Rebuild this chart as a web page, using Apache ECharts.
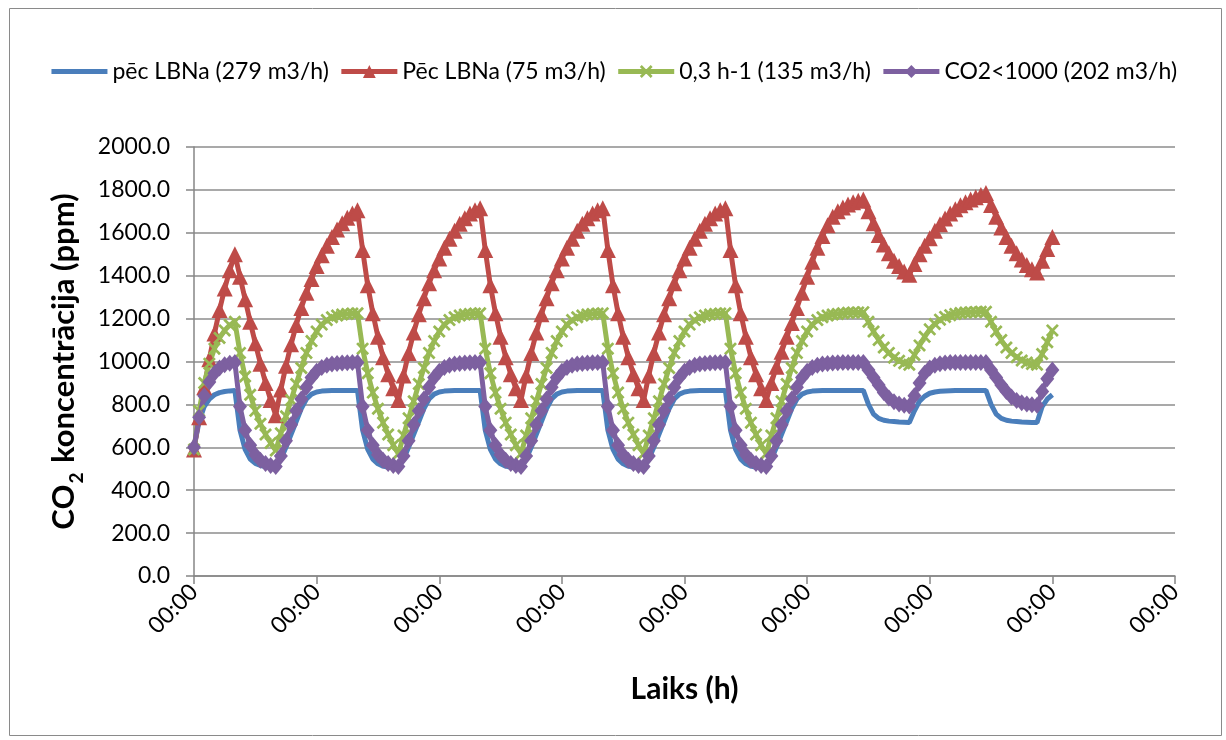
<!DOCTYPE html>
<html>
<head>
<meta charset="utf-8">
<title>CO2 koncentrācija</title>
<script src="https://cdn.jsdelivr.net/npm/echarts@6/dist/echarts.min.js"></script>
<style>
  html, body { margin: 0; padding: 0; background: #fff; }
  #chart { width: 1226px; height: 740px; }
</style>
</head>
<body>
<div id="chart"></div>
<script>
// hourly values, hour 0 .. 168 (7 days)
var blue = [
  600, 720, 790, 825, 845, 855, 860, 863, 865,
  680, 590, 545, 525, 515, 510, 507, 505,
  545, 600, 660, 720, 780, 825, 848, 858, 862, 864, 865, 865, 865, 865, 865, 865,
  680, 590, 545, 523, 512, 507, 505, 503,
  545, 600, 660, 720, 780, 825, 848, 858, 862, 864, 865, 865, 865, 865, 865, 865,
  680, 590, 545, 523, 512, 507, 505, 503,
  545, 600, 660, 720, 780, 825, 848, 858, 862, 864, 865, 865, 865, 865, 865, 865,
  680, 590, 545, 523, 512, 507, 505, 503,
  545, 600, 660, 720, 780, 825, 848, 858, 862, 864, 865, 865, 865, 865, 865, 865,
  680, 590, 545, 523, 512, 507, 505, 503,
  545, 600, 660, 720, 780, 825, 848, 858, 862, 864, 865, 865, 865, 865, 865, 865, 865, 865, 865,
  800, 755, 735, 726, 722, 720, 718, 717, 716,
  770, 815, 838, 852, 858, 861, 863, 864, 865, 865, 865, 865, 865, 865, 865,
  800, 755, 735, 726, 722, 720, 718, 717, 716, 716,
  790, 825, 845
];
var red = [
  590, 740, 880, 1010, 1130, 1240, 1340, 1425, 1500,
  1395, 1290, 1185, 1085, 990, 900, 820, 750,
  870, 980, 1080, 1170, 1250, 1320, 1385, 1445, 1495, 1540, 1580, 1615, 1645, 1670, 1690, 1705,
  1520, 1355, 1225, 1115, 1020, 940, 875, 820,
  935, 1040, 1135, 1220, 1295, 1365, 1425, 1480, 1530, 1572, 1610, 1642, 1668, 1690, 1705, 1715,
  1520, 1355, 1225, 1115, 1020, 940, 875, 820,
  935, 1040, 1135, 1220, 1295, 1365, 1425, 1480, 1530, 1572, 1610, 1642, 1668, 1690, 1705, 1715,
  1520, 1355, 1225, 1115, 1020, 940, 875, 820,
  935, 1040, 1135, 1220, 1295, 1365, 1425, 1480, 1530, 1572, 1610, 1642, 1668, 1690, 1705, 1715,
  1520, 1355, 1225, 1115, 1020, 940, 875, 820,
  900, 975, 1045, 1115, 1180, 1250, 1320, 1395, 1465, 1530, 1585, 1635, 1675, 1700, 1718, 1732, 1742, 1750, 1755,
  1700, 1645, 1590, 1545, 1505, 1470, 1445, 1420, 1405,
  1455, 1500, 1540, 1575, 1610, 1640, 1667, 1690, 1710, 1728, 1743, 1755, 1766, 1776, 1785,
  1730, 1675, 1625, 1580, 1540, 1505, 1475, 1450, 1430, 1415,
  1470, 1525, 1580
];
var green = [
  590, 770, 900, 990, 1060, 1110, 1145, 1170, 1185,
  1040, 930, 845, 770, 710, 660, 620, 585,
  665, 745, 820, 895, 970, 1040, 1095, 1140, 1172, 1193, 1206, 1214, 1219, 1222, 1224, 1225,
  1060, 945, 855, 780, 715, 660, 610, 570,
  655, 735, 815, 895, 970, 1040, 1095, 1140, 1172, 1193, 1206, 1214, 1219, 1222, 1224, 1225,
  1060, 945, 855, 780, 715, 660, 610, 570,
  655, 735, 815, 895, 970, 1040, 1095, 1140, 1172, 1193, 1206, 1214, 1219, 1222, 1224, 1225,
  1060, 945, 855, 780, 715, 660, 610, 570,
  655, 735, 815, 895, 970, 1040, 1095, 1140, 1172, 1193, 1206, 1214, 1219, 1222, 1224, 1225,
  1060, 945, 855, 780, 715, 660, 610, 570,
  655, 735, 815, 895, 970, 1040, 1095, 1140, 1172, 1193, 1206, 1214, 1219, 1222, 1225, 1227, 1228, 1229, 1230,
  1185, 1140, 1100, 1065, 1040, 1018, 1003, 992, 985,
  1030, 1075, 1115, 1150, 1175, 1195, 1208, 1216, 1222, 1226, 1228, 1230, 1231, 1232, 1232,
  1185, 1140, 1100, 1065, 1040, 1020, 1005, 995, 988, 985,
  1035, 1090, 1145
];
var purple = [
  600, 740, 840, 905, 945, 970, 985, 992, 995,
  790, 680, 610, 565, 540, 525, 515, 510,
  560, 630, 705, 770, 825, 880, 925, 955, 972, 982, 988, 991, 993, 994, 995, 995,
  790, 680, 610, 565, 540, 525, 515, 510,
  560, 630, 705, 770, 825, 880, 925, 955, 972, 982, 988, 991, 993, 994, 995, 995,
  790, 680, 610, 565, 540, 525, 515, 510,
  560, 630, 705, 770, 825, 880, 925, 955, 972, 982, 988, 991, 993, 994, 995, 995,
  790, 680, 610, 565, 540, 525, 515, 510,
  560, 630, 705, 770, 825, 880, 925, 955, 972, 982, 988, 991, 993, 994, 995, 995,
  790, 680, 610, 565, 540, 525, 515, 510,
  560, 630, 705, 770, 825, 880, 925, 955, 972, 982, 988, 991, 993, 994, 995, 995, 995, 995, 995,
  960, 925, 890, 855, 830, 812, 802, 796, 793,
  840, 900, 945, 970, 983, 990, 993, 995, 995, 995, 995, 995, 995, 995, 995,
  960, 925, 890, 860, 835, 818, 808, 802, 798, 796,
  860, 920, 960
];
var seriesNames = ['pēc LBNa (279 m3/h)', 'Pēc LBNa (75 m3/h)', '0,3 h-1 (135 m3/h)', 'CO2<1000 (202 m3/h)'];
var xTickLabel = '00:00';

var font = 'Lato, "Open Sans", sans-serif';
var crossPath = 'path://M0,1.5 L1.5,0 L5,3.5 L8.5,0 L10,1.5 L6.5,5 L10,8.5 L8.5,10 L5,6.5 L1.5,10 L0,8.5 L3.5,5 Z';

function pts(arr) {
  return arr.map(function (v, i) { return [i, v]; });
}

var chart = echarts.init(document.getElementById('chart'));
var option = {
  backgroundColor: '#fff',
  animation: false,
  graphic: [{
    type: 'rect', left: 7, top: 6, shape: { width: 1212, height: 727 },
    style: { fill: 'none', stroke: '#8a8a8a', lineWidth: 1 }, silent: true
  }],
  legend: {
    top: 55, left: 'center',
    itemWidth: 56, itemHeight: 16, itemGap: 10,
    textStyle: { fontFamily: font, fontSize: 23, color: '#000' },
    lineStyle: { width: 5 },
    data: [
      { name: seriesNames[0], itemStyle: { opacity: 0 } },
      { name: seriesNames[1] },
      { name: seriesNames[2] },
      { name: seriesNames[3] }
    ]
  },
  grid: { left: 194, right: 51, top: 147, bottom: 164 },
  xAxis: {
    type: 'value', min: 0, max: 192, interval: 24,
    name: 'Laiks (h)', nameLocation: 'middle', nameGap: 98,
    nameTextStyle: { fontFamily: font, fontSize: 30, fontWeight: 'bold', color: '#000' },
    axisLine: { show: true, lineStyle: { color: '#868686', width: 1.5 } },
    axisTick: { show: true, length: 8, lineStyle: { color: '#868686', width: 1.5 } },
    splitLine: { show: false },
    axisLabel: {
      rotate: 45, margin: 12, fontFamily: font, fontSize: 23, color: '#000',
      formatter: function () { return xTickLabel; }
    }
  },
  yAxis: {
    type: 'value', min: 0, max: 2000, interval: 200,
    name: '{a|CO}{s|2}{a| koncentrācija (ppm)}', nameLocation: 'middle', nameGap: 112,
    nameTextStyle: {
      rich: {
        a: { fontFamily: font, fontSize: 31, fontWeight: 'bold', color: '#000', lineHeight: 36, verticalAlign: 'middle' },
        s: { fontFamily: font, fontSize: 19, fontWeight: 'bold', color: '#000', lineHeight: 36, verticalAlign: 'bottom', padding: [0, 2, -4, 1] }
      }
    },
    axisLine: { show: true, lineStyle: { color: '#868686', width: 1.5 } },
    axisTick: { show: true, length: 8, lineStyle: { color: '#868686', width: 1.5 } },
    splitLine: { show: true, lineStyle: { color: '#8c8c8c', width: 1.5 } },
    axisLabel: {
      margin: 24, fontFamily: font, fontSize: 23, color: '#000',
      formatter: function (v) { return v.toFixed(1); }
    }
  },
  series: [
    {
      name: seriesNames[0], type: 'line', data: pts(blue),
      showSymbol: false, symbol: 'none',
      lineStyle: { color: '#4A7EBB', width: 5 },
      itemStyle: { color: '#4A7EBB' }
    },
    {
      name: seriesNames[1], type: 'line', data: pts(red),
      symbol: 'triangle', symbolSize: 16,
      lineStyle: { color: '#BE4B48', width: 5 },
      itemStyle: { color: '#BE4B48' }
    },
    {
      name: seriesNames[2], type: 'line', data: pts(green),
      symbol: crossPath, symbolSize: 13,
      lineStyle: { color: '#98B954', width: 5 },
      itemStyle: { color: '#98B954' }
    },
    {
      name: seriesNames[3], type: 'line', data: pts(purple),
      symbol: 'diamond', symbolSize: [14, 17],
      lineStyle: { color: '#7D60A0', width: 5 },
      itemStyle: { color: '#7D60A0' }
    }
  ]
};
chart.setOption(option);
</script>
</body>
</html>
